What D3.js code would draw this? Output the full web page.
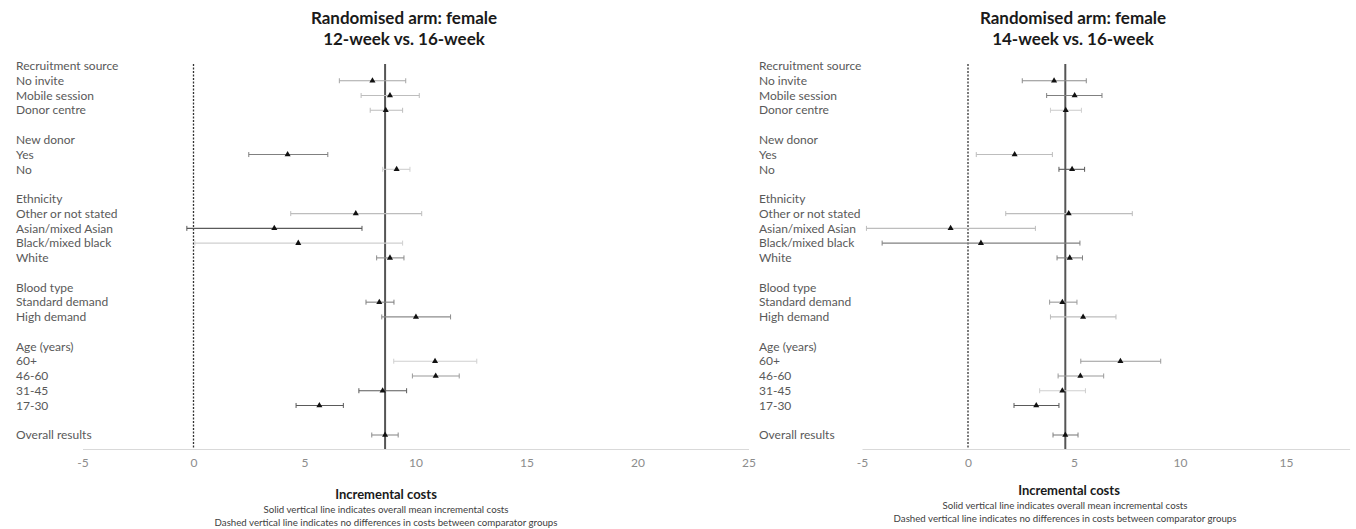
<!DOCTYPE html>
<html>
<head>
<meta charset="utf-8">
<script src="https://cdn.jsdelivr.net/npm/d3@7"></script>
<style>
  html, body { margin: 0; padding: 0; background: #fff; }
  svg { display: block; font-family: Lato, "Open Sans", sans-serif; }
</style>
</head>
<body>
<svg id="chart" width="1356" height="529"></svg>
<script>
// Row labels, top to bottom (blank strings are spacer rows between groups)
const rowLabels = [
  "Recruitment source", "No invite", "Mobile session", "Donor centre", "",
  "New donor", "Yes", "No", "",
  "Ethnicity", "Other or not stated", "Asian/mixed Asian", "Black/mixed black", "White", "",
  "Blood type", "Standard demand", "High demand", "",
  "Age (years)", "60+", "46-60", "31-45", "17-30", "",
  "Overall results"
];

// Subgroups that carry an estimate
const subgroups = [
  "No invite", "Mobile session", "Donor centre", "Yes", "No",
  "Other or not stated", "Asian/mixed Asian", "Black/mixed black", "White",
  "Standard demand", "High demand", "60+", "46-60", "31-45", "17-30", "Overall results"
];

// 12-week vs. 16-week: mean incremental cost and interval bounds
const meanA = [8.06, 8.85, 8.66, 4.24, 9.15, 7.31, 3.64, 4.72, 8.85, 8.37, 10.02, 10.88, 10.91, 8.52, 5.67, 8.63];
const lowA  = [6.57, 7.55, 7.96, 2.49, 8.52, 4.38, -0.30, 0.06, 8.25, 7.77, 8.48, 9.02, 9.86, 7.45, 4.62, 8.03];
const highA = [9.56, 10.17, 9.42, 6.05, 9.75, 10.28, 7.59, 9.42, 9.48, 9.03, 11.58, 12.76, 11.97, 9.60, 6.75, 9.22];
const ticksA = [-5, 0, 5, 10, 15, 20, 25];

// 14-week vs. 16-week
const meanB = [4.06, 5.03, 4.61, 2.20, 4.91, 4.75, -0.82, 0.61, 4.80, 4.45, 5.43, 7.19, 5.30, 4.45, 3.22, 4.59];
const lowB  = [2.56, 3.71, 3.89, 0.39, 4.29, 1.78, -4.79, -4.05, 4.20, 3.85, 3.89, 5.32, 4.25, 3.38, 2.17, 4.01];
const highB = [5.58, 6.32, 5.35, 3.98, 5.50, 7.75, 3.18, 5.28, 5.40, 5.14, 6.98, 9.09, 6.40, 5.54, 4.29, 5.19];
const ticksB = [-5, 0, 5, 10, 15];

const titleLine1 = "Randomised arm: female";
const axisTitle = "Incremental costs";
const noteLines = [
  "Solid vertical line indicates overall mean incremental costs",
  "Dashed vertical line indicates no differences in costs between comparator groups"
];

// Interval line shades per subgroup, one list per panel
const shadeA = ["#a6a6a6", "#bdbdbd", "#bdbdbd", "#808080", "#cfcfcf", "#bdbdbd", "#5a5a5a", "#cfcfcf",
                "#8c8c8c", "#808080", "#8c8c8c", "#cfcfcf", "#9a9a9a", "#5a5a5a", "#5a5a5a", "#8c8c8c"];
const shadeB = ["#8c8c8c", "#808080", "#cfcfcf", "#bdbdbd", "#5a5a5a", "#bdbdbd", "#bdbdbd", "#808080",
                "#808080", "#9a9a9a", "#bdbdbd", "#9a9a9a", "#9a9a9a", "#cfcfcf", "#5a5a5a", "#808080"];

const svg = d3.select("#chart");

function drawPanel(p) {
  const g = svg.append("g");
  const x = d3.scaleLinear().domain(p.domain).range(p.xRange);
  const y = d3.scalePoint().domain(d3.range(rowLabels.length)).range([66, 435]);
  const axisY = 449;

  // Titles
  g.append("text").attr("x", p.titleX).attr("y", 24)
    .attr("text-anchor", "middle").attr("font-weight", "bold").attr("font-size", 17)
    .attr("fill", "#1a1a1a").text(titleLine1);
  g.append("text").attr("x", p.titleX).attr("y", 45)
    .attr("text-anchor", "middle").attr("font-weight", "bold").attr("font-size", 17)
    .attr("fill", "#1a1a1a").text(p.title2);

  // Row labels
  g.selectAll("text.row").data(rowLabels).join("text")
    .attr("class", "row")
    .attr("x", p.labelX)
    .attr("y", (d, i) => y(i))
    .attr("dy", "0.35em")
    .attr("font-size", 12)
    .attr("fill", "#595959")
    .text(d => d);

  // Bottom axis: light rule with tick labels only
  const axis = d3.axisBottom(x).tickValues(p.ticks).tickSize(0).tickPadding(9).tickFormat(d => String(d));
  const ax = g.append("g").attr("transform", `translate(0,${axisY})`).call(axis);
  ax.select(".domain").attr("stroke", "#d9d9d9").attr("stroke-width", 1.2);
  ax.selectAll("text").attr("font-size", 12).attr("fill", "#8c8c8c")
    .attr("font-family", "Lato, 'Open Sans', sans-serif");

  // Reference lines: no difference (dashed) and overall mean (solid)
  g.append("line")
    .attr("x1", x(0)).attr("x2", x(0)).attr("y1", 64).attr("y2", axisY)
    .attr("stroke", "#333").attr("stroke-width", 1.3).attr("stroke-dasharray", "2,1.5");
  const overall = p.mean[p.mean.length - 1];
  g.append("line")
    .attr("x1", x(overall)).attr("x2", x(overall)).attr("y1", 64).attr("y2", axisY)
    .attr("stroke", "#555").attr("stroke-width", 2);

  // Interval bars with end caps and triangle markers
  const rows = subgroups.map((s, i) => ({
    row: rowLabels.indexOf(s), m: p.mean[i], lo: p.low[i], hi: p.high[i], c: p.shade[i]
  }));
  const est = g.append("g").selectAll("g").data(rows).join("g");
  est.append("line")
    .attr("x1", d => x(d.lo)).attr("x2", d => x(d.hi))
    .attr("y1", d => y(d.row)).attr("y2", d => y(d.row))
    .attr("stroke", d => d.c).attr("stroke-width", 1.1);
  est.append("line")
    .attr("x1", d => x(d.lo)).attr("x2", d => x(d.lo))
    .attr("y1", d => y(d.row) - 2.5).attr("y2", d => y(d.row) + 2.5)
    .attr("stroke", d => d.c).attr("stroke-width", 1);
  est.append("line")
    .attr("x1", d => x(d.hi)).attr("x2", d => x(d.hi))
    .attr("y1", d => y(d.row) - 2.5).attr("y2", d => y(d.row) + 2.5)
    .attr("stroke", d => d.c).attr("stroke-width", 1);
  est.append("path")
    .attr("d", d3.symbol(d3.symbolTriangle, 16))
    .attr("transform", d => `translate(${x(d.m)},${y(d.row)})`)
    .attr("fill", "#111");

  // Axis title and notes
  g.append("text").attr("x", p.axisTitleX).attr("y", p.axisTitleY)
    .attr("text-anchor", "middle").attr("font-weight", "bold").attr("font-size", 13)
    .attr("fill", "#1a1a1a").text(axisTitle);
  noteLines.forEach((t, i) => {
    g.append("text").attr("x", p.noteX).attr("y", p.axisTitleY + 14 + i * 13)
      .attr("text-anchor", "middle").attr("font-size", 9.7)
      .attr("fill", "#404040").text(t);
  });
}

drawPanel({
  title2: "12-week vs. 16-week",
  mean: meanA, low: lowA, high: highA, shade: shadeA,
  domain: [-5, 25], xRange: [82.5, 748.5], ticks: ticksA,
  labelX: 16, titleX: 404, axisTitleX: 386, noteX: 386, axisTitleY: 499
});

drawPanel({
  title2: "14-week vs. 16-week",
  mean: meanB, low: lowB, high: highB, shade: shadeB,
  domain: [-5, 18], xRange: [862, 1349.6], ticks: ticksB,
  labelX: 759, titleX: 1073, axisTitleX: 1069, noteX: 1065, axisTitleY: 495
});
</script>
</body>
</html>
